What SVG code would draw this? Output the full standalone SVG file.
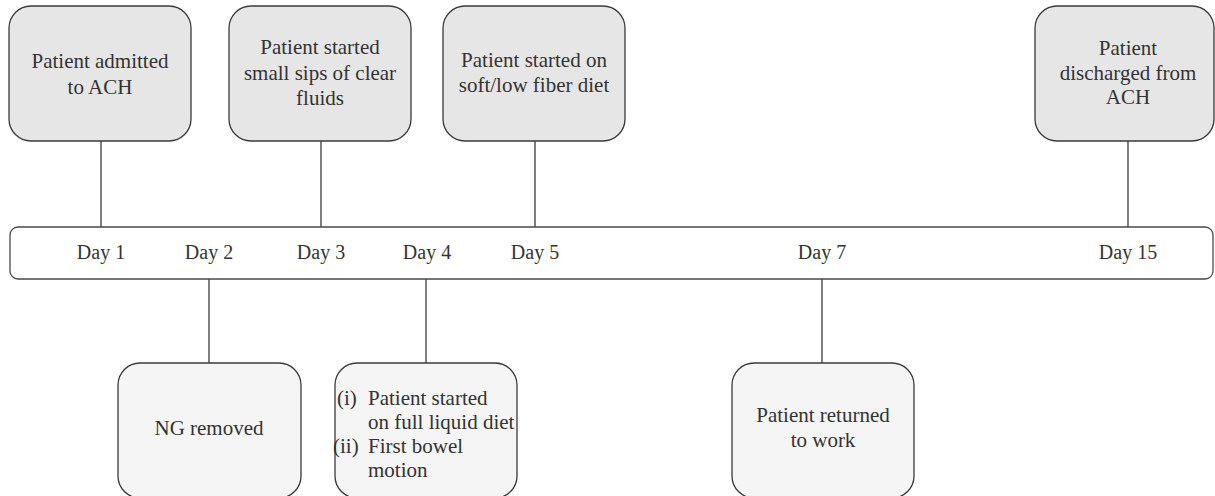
<svg xmlns="http://www.w3.org/2000/svg" width="1215" height="496" viewBox="0 0 1215 496">
<style>
.top{fill:#e6e6e6;stroke:#3a3a3a;stroke-width:1.3}
.bot{fill:#f4f5f4;stroke:#3a3a3a;stroke-width:1.3}
.bar{fill:#ffffff;stroke:#4a4a4a;stroke-width:1.3}
.t{font-family:"Liberation Serif","Times New Roman",serif;font-size:21px;fill:#333333;text-anchor:middle}
.d{font-family:"Liberation Serif","Times New Roman",serif;font-size:20px;fill:#333333;text-anchor:middle}
.l{font-family:"Liberation Serif","Times New Roman",serif;font-size:21px;fill:#333333}
.c{stroke:#3a3a3a;stroke-width:1.3;fill:none}
</style>
<g id="connectors">
<line class="c" x1="101" y1="141" x2="101" y2="227"/>
<line class="c" x1="321" y1="141" x2="321" y2="227"/>
<line class="c" x1="535" y1="141" x2="535" y2="227"/>
<line class="c" x1="1128" y1="141" x2="1128" y2="227"/>
<line class="c" x1="209" y1="279" x2="209" y2="363"/>
<line class="c" x1="426" y1="279" x2="426" y2="363"/>
<line class="c" x1="822" y1="279" x2="822" y2="363"/>
</g>
<g id="timeline">
<rect class="bar" x="10" y="227" width="1203" height="52" rx="8"/>
<text class="d" x="101" y="259">Day 1</text>
<text class="d" x="209" y="259">Day 2</text>
<text class="d" x="321" y="259">Day 3</text>
<text class="d" x="427" y="259">Day 4</text>
<text class="d" x="535" y="259">Day 5</text>
<text class="d" x="822" y="259">Day 7</text>
<text class="d" x="1128" y="259">Day 15</text>
</g>
<g id="admitted">
<rect class="top" x="9" y="6" width="182" height="135" rx="22"/>
<text class="t" x="100" y="68">Patient admitted</text>
<text class="t" x="100" y="94">to ACH</text>
</g>
<g id="sips">
<rect class="top" x="229" y="6" width="182" height="135" rx="22"/>
<text class="t" x="320" y="54">Patient started</text>
<text class="t" x="320" y="80">small sips of clear</text>
<text class="t" x="320" y="105">fluids</text>
</g>
<g id="soft">
<rect class="top" x="443" y="6" width="182" height="135" rx="22"/>
<text class="t" x="534" y="67">Patient started on</text>
<text class="t" x="534" y="92">soft/low fiber diet</text>
</g>
<g id="discharged">
<rect class="top" x="1035" y="6" width="179" height="135" rx="22"/>
<text class="t" x="1128" y="55">Patient</text>
<text class="t" x="1128" y="80">discharged from</text>
<text class="t" x="1128" y="104">ACH</text>
</g>
<g id="ng">
<rect class="bot" x="118" y="363" width="183" height="135" rx="22"/>
<text class="t" x="209" y="435">NG removed</text>
</g>
<g id="liquid">
<rect class="bot" x="335" y="363" width="182" height="135" rx="22"/>
<text class="l" x="337" y="405">(i)</text>
<text class="l" x="368" y="405">Patient started</text>
<text class="l" x="368" y="429">on full liquid diet</text>
<text class="l" x="333" y="453">(ii)</text>
<text class="l" x="368" y="453">First bowel</text>
<text class="l" x="368" y="477">motion</text>
</g>
<g id="work">
<rect class="bot" x="732" y="363" width="182" height="135" rx="22"/>
<text class="t" x="823" y="422">Patient returned</text>
<text class="t" x="823" y="447">to work</text>
</g>
</svg>
